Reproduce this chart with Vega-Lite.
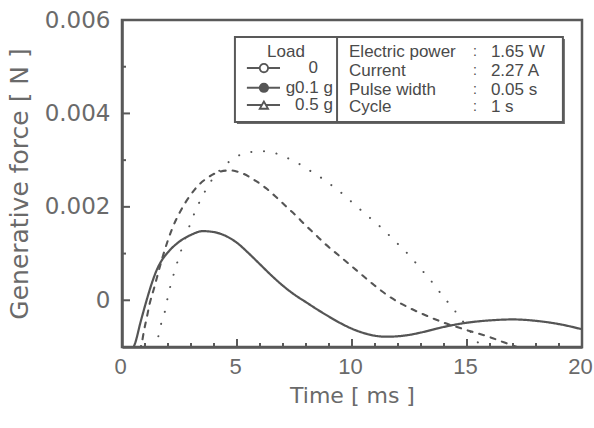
{
  "$schema": "https://vega.github.io/schema/vega-lite/v6.json",
  "width": 460,
  "height": 327,
  "autosize": {"type": "none"},
  "padding": {"left": 122, "top": 20, "right": 12, "bottom": 81},
  "background": "white",
  "config": {
    "font": "Liberation Sans",
    "view": {"stroke": "#595959", "strokeWidth": 2.5},
    "axis": {
      "domainColor": "#595959",
      "domainWidth": 2.5,
      "grid": false,
      "labelColor": "#6a6a6a",
      "titleFontWeight": "normal",
      "titleColor": "#6a6a6a"
    }
  },
  "datasets": {
    "curves": [
      {"series": "a", "t": 0.45, "v": -0.00106},
      {"series": "a", "t": 0.57, "v": -0.00092},
      {"series": "a", "t": 0.8, "v": -0.00048},
      {"series": "a", "t": 1.07, "v": 0.0},
      {"series": "a", "t": 1.3, "v": 0.00037},
      {"series": "a", "t": 1.52, "v": 0.00066},
      {"series": "a", "t": 1.75, "v": 0.00087},
      {"series": "a", "t": 2.0, "v": 0.00103},
      {"series": "a", "t": 2.4, "v": 0.00122},
      {"series": "a", "t": 3.0, "v": 0.0014},
      {"series": "a", "t": 3.5, "v": 0.00148},
      {"series": "a", "t": 4.0, "v": 0.00146},
      {"series": "a", "t": 4.5, "v": 0.00138},
      {"series": "a", "t": 5.0, "v": 0.00123},
      {"series": "a", "t": 5.5, "v": 0.00101},
      {"series": "a", "t": 6.0, "v": 0.00077},
      {"series": "a", "t": 6.5, "v": 0.00053},
      {"series": "a", "t": 7.0, "v": 0.00031},
      {"series": "a", "t": 7.5, "v": 0.00012},
      {"series": "a", "t": 8.0, "v": -0.00004},
      {"series": "a", "t": 8.5, "v": -0.0002},
      {"series": "a", "t": 9.0, "v": -0.00035},
      {"series": "a", "t": 9.5, "v": -0.00049},
      {"series": "a", "t": 10.0, "v": -0.00061},
      {"series": "a", "t": 10.5, "v": -0.0007},
      {"series": "a", "t": 11.0, "v": -0.00076},
      {"series": "a", "t": 11.5, "v": -0.00078},
      {"series": "a", "t": 12.0, "v": -0.00077},
      {"series": "a", "t": 12.5, "v": -0.00074},
      {"series": "a", "t": 13.0, "v": -0.00069},
      {"series": "a", "t": 13.5, "v": -0.00063},
      {"series": "a", "t": 14.0, "v": -0.00057},
      {"series": "a", "t": 15.0, "v": -0.00048},
      {"series": "a", "t": 16.0, "v": -0.00043},
      {"series": "a", "t": 17.0, "v": -0.00041},
      {"series": "a", "t": 18.0, "v": -0.00044},
      {"series": "a", "t": 19.0, "v": -0.00051},
      {"series": "a", "t": 20.0, "v": -0.00062},
      {"series": "b", "t": 0.76, "v": -0.00108},
      {"series": "b", "t": 0.87, "v": -0.00089},
      {"series": "b", "t": 0.96, "v": -0.00064},
      {"series": "b", "t": 1.09, "v": -0.00034},
      {"series": "b", "t": 1.2, "v": -0.00008},
      {"series": "b", "t": 1.4, "v": 0.00027},
      {"series": "b", "t": 1.75, "v": 0.0009},
      {"series": "b", "t": 2.17, "v": 0.00152},
      {"series": "b", "t": 2.61, "v": 0.00197},
      {"series": "b", "t": 2.96, "v": 0.00224},
      {"series": "b", "t": 3.3, "v": 0.00245},
      {"series": "b", "t": 3.74, "v": 0.00263},
      {"series": "b", "t": 4.17, "v": 0.00274},
      {"series": "b", "t": 4.7, "v": 0.00278},
      {"series": "b", "t": 5.22, "v": 0.00272},
      {"series": "b", "t": 5.74, "v": 0.00258},
      {"series": "b", "t": 6.26, "v": 0.0024},
      {"series": "b", "t": 6.7, "v": 0.00221},
      {"series": "b", "t": 7.13, "v": 0.00201},
      {"series": "b", "t": 7.57, "v": 0.00181},
      {"series": "b", "t": 7.95, "v": 0.00162},
      {"series": "b", "t": 8.4, "v": 0.00141},
      {"series": "b", "t": 8.78, "v": 0.00123},
      {"series": "b", "t": 9.5, "v": 0.00093},
      {"series": "b", "t": 10.2, "v": 0.00064},
      {"series": "b", "t": 10.9, "v": 0.00035},
      {"series": "b", "t": 11.65, "v": 0.00007},
      {"series": "b", "t": 12.4, "v": -0.00014},
      {"series": "b", "t": 13.1, "v": -0.0003},
      {"series": "b", "t": 14.0, "v": -0.00048},
      {"series": "b", "t": 15.0, "v": -0.00064},
      {"series": "b", "t": 16.0, "v": -0.00079},
      {"series": "b", "t": 16.6, "v": -0.0009},
      {"series": "b", "t": 17.3, "v": -0.00102},
      {"series": "c", "t": 1.48, "v": -0.00104},
      {"series": "c", "t": 1.61, "v": -0.0007},
      {"series": "c", "t": 1.74, "v": -0.00043},
      {"series": "c", "t": 1.91, "v": -0.00015},
      {"series": "c", "t": 2.0, "v": 0.0001},
      {"series": "c", "t": 2.13, "v": 0.00035},
      {"series": "c", "t": 2.6, "v": 0.00111},
      {"series": "c", "t": 3.04, "v": 0.00173},
      {"series": "c", "t": 3.26, "v": 0.00199},
      {"series": "c", "t": 3.52, "v": 0.00225},
      {"series": "c", "t": 3.78, "v": 0.00248},
      {"series": "c", "t": 4.52, "v": 0.00291},
      {"series": "c", "t": 5.0, "v": 0.00308},
      {"series": "c", "t": 5.52, "v": 0.00317},
      {"series": "c", "t": 6.13, "v": 0.00319},
      {"series": "c", "t": 6.65, "v": 0.00315},
      {"series": "c", "t": 7.22, "v": 0.00304},
      {"series": "c", "t": 7.74, "v": 0.00291},
      {"series": "c", "t": 8.22, "v": 0.00276},
      {"series": "c", "t": 8.7, "v": 0.00261},
      {"series": "c", "t": 9.17, "v": 0.00244},
      {"series": "c", "t": 9.61, "v": 0.00227},
      {"series": "c", "t": 10.04, "v": 0.00208},
      {"series": "c", "t": 10.48, "v": 0.00189},
      {"series": "c", "t": 10.91, "v": 0.00171},
      {"series": "c", "t": 11.35, "v": 0.00152},
      {"series": "c", "t": 11.74, "v": 0.00133},
      {"series": "c", "t": 12.17, "v": 0.00112},
      {"series": "c", "t": 12.57, "v": 0.00092},
      {"series": "c", "t": 12.9, "v": 0.00072},
      {"series": "c", "t": 13.3, "v": 0.0005},
      {"series": "c", "t": 13.65, "v": 0.00028},
      {"series": "c", "t": 14.0, "v": 0.00006},
      {"series": "c", "t": 14.35, "v": -0.00015},
      {"series": "c", "t": 14.7, "v": -0.00037},
      {"series": "c", "t": 15.04, "v": -0.0006},
      {"series": "c", "t": 15.35, "v": -0.00081},
      {"series": "c", "t": 15.65, "v": -0.00104}
    ],
    "xMajor": [{"t": 5}, {"t": 10}, {"t": 15}],
    "xMinor": [{"t": 1}, {"t": 2}, {"t": 3}, {"t": 4}, {"t": 6}, {"t": 7}, {"t": 8}, {"t": 9}, {"t": 11}, {"t": 12}, {"t": 13}, {"t": 14}, {"t": 16}, {"t": 17}, {"t": 18}, {"t": 19}],
    "yMajor": [{"v": 0}, {"v": 0.002}, {"v": 0.004}],
    "yMinor": [{"v": 0.001}, {"v": 0.003}, {"v": 0.005}],
    "box": [{"t": 4.91, "t2": 19.17, "v": 0.005636, "v2": 0.003814}],
    "divider": [{"t": 9.35, "v": 0.005636, "v2": 0.003814}],
    "params": [
      {"t": 9.87, "v": 0.005314, "label": "Electric power", "val": "1.65 W", "tc": 15.35, "tv": 16.04},
      {"t": 9.87, "v": 0.004907, "label": "Current", "val": "2.27 A", "tc": 15.35, "tv": 16.04},
      {"t": 9.87, "v": 0.004511, "label": "Pulse width", "val": "0.05 s", "tc": 15.35, "tv": 16.04},
      {"t": 9.87, "v": 0.004135, "label": "Cycle", "val": "1 s", "tc": 15.35, "tv": 16.04}
    ],
    "loadTitle": [{"t": 7.13, "v": 0.005314, "label": "Load"}],
    "loadRows": [
      {"key": "0", "t": 5.43, "t2": 6.87, "tm": 6.17, "v": 0.004971, "label": "0", "tl": 8.52},
      {"key": "0.1 g", "t": 5.43, "t2": 6.87, "tm": 6.17, "v": 0.004549, "label": "g0.1 g", "tl": 9.17},
      {"key": "0.5 g", "t": 5.43, "t2": 6.87, "tm": 6.17, "v": 0.004178, "label": "0.5 g", "tl": 9.17}
    ]
  },
  "layer": [
    {
      "data": {"name": "curves"},
      "mark": {"type": "line", "clip": true, "color": "#555555", "strokeCap": "round", "interpolate": "monotone"},
      "encoding": {
        "x": {
          "field": "t", "type": "quantitative",
          "scale": {"domain": [0, 20], "nice": false, "zero": false},
          "axis": {
            "title": "Time   [ ms ]",
            "titleFont": "DejaVu Sans",
            "titleFontSize": 22,
            "values": [0, 5, 10, 15, 20],
            "labelFont": "Liberation Sans",
            "labelFontSize": 22,
            "labelFlush": false,
            "labelOverlap": false,
            "labelOffset": -2,
            "ticks": false,
            "labelPadding": 9,
            "titlePadding": 8
          }
        },
        "y": {
          "field": "v", "type": "quantitative",
          "scale": {"domain": [-0.001, 0.006], "nice": false, "zero": false},
          "axis": {
            "title": "Generative force [ N ]",
            "titleFont": "DejaVu Sans",
            "titleFontSize": 25,
            "values": [0, 0.002, 0.004, 0.006],
            "format": ".3~f",
            "labelFont": "DejaVu Sans",
            "labelFontSize": 23,
            "labelFlush": false,
            "labelOverlap": false,
            "ticks": false,
            "labelPadding": 12,
            "titlePadding": 12
          }
        },
        "detail": {"field": "series"},
        "strokeDash": {
          "field": "series", "type": "nominal",
          "scale": {"domain": ["a", "b", "c"], "range": [[1, 0], [5, 7], [0.1, 12.6]]},
          "legend": null
        },
        "strokeWidth": {
          "field": "series", "type": "nominal",
          "scale": {"domain": ["a", "b", "c"], "range": [2.2, 2, 3.3]},
          "legend": null
        }
      }
    },
    {
      "data": {"name": "xMajor"},
      "mark": {"type": "tick", "orient": "vertical", "size": 16, "thickness": 2, "color": "#595959", "opacity": 1, "clip": true},
      "encoding": {
        "x": {"field": "t", "type": "quantitative"},
        "y": {"datum": -0.001, "type": "quantitative"}
      }
    },
    {
      "data": {"name": "xMinor"},
      "mark": {"type": "tick", "orient": "vertical", "size": 8, "thickness": 2, "color": "#595959", "opacity": 1, "clip": true},
      "encoding": {
        "x": {"field": "t", "type": "quantitative"},
        "y": {"datum": -0.001, "type": "quantitative"}
      }
    },
    {
      "data": {"name": "yMajor"},
      "mark": {"type": "tick", "orient": "horizontal", "size": 16, "thickness": 2, "color": "#595959", "opacity": 1, "clip": true},
      "encoding": {
        "x": {"datum": 0, "type": "quantitative"},
        "y": {"field": "v", "type": "quantitative"}
      }
    },
    {
      "data": {"name": "yMinor"},
      "mark": {"type": "tick", "orient": "horizontal", "size": 8, "thickness": 2, "color": "#595959", "opacity": 1, "clip": true},
      "encoding": {
        "x": {"datum": 0, "type": "quantitative"},
        "y": {"field": "v", "type": "quantitative"}
      }
    },
    {
      "data": {"name": "box"},
      "mark": {"type": "rect", "fill": "#6a6a6a", "xOffset": 2, "yOffset": 2, "x2Offset": 2, "y2Offset": 2},
      "encoding": {
        "x": {"field": "t", "type": "quantitative"},
        "x2": {"field": "t2"},
        "y": {"field": "v", "type": "quantitative"},
        "y2": {"field": "v2"}
      }
    },
    {
      "data": {"name": "box"},
      "mark": {"type": "rect", "fill": "white", "stroke": "#595959", "strokeWidth": 2},
      "encoding": {
        "x": {"field": "t", "type": "quantitative"},
        "x2": {"field": "t2"},
        "y": {"field": "v", "type": "quantitative"},
        "y2": {"field": "v2"}
      }
    },
    {
      "data": {"name": "divider"},
      "mark": {"type": "rule", "stroke": "#595959", "strokeWidth": 2},
      "encoding": {
        "x": {"field": "t", "type": "quantitative"},
        "y": {"field": "v", "type": "quantitative"},
        "y2": {"field": "v2"}
      }
    },
    {
      "data": {"name": "params"},
      "mark": {"type": "text", "align": "left", "baseline": "middle", "fontSize": 17, "color": "#4a4a4a"},
      "encoding": {
        "x": {"field": "t", "type": "quantitative"},
        "y": {"field": "v", "type": "quantitative"},
        "text": {"field": "label"}
      }
    },
    {
      "data": {"name": "params"},
      "mark": {"type": "text", "align": "center", "baseline": "middle", "fontSize": 14, "color": "#4a4a4a"},
      "encoding": {
        "x": {"field": "tc", "type": "quantitative"},
        "y": {"field": "v", "type": "quantitative"},
        "text": {"value": ":"}
      }
    },
    {
      "data": {"name": "params"},
      "mark": {"type": "text", "align": "left", "baseline": "middle", "fontSize": 17, "color": "#4a4a4a"},
      "encoding": {
        "x": {"field": "tv", "type": "quantitative"},
        "y": {"field": "v", "type": "quantitative"},
        "text": {"field": "val"}
      }
    },
    {
      "data": {"name": "loadTitle"},
      "mark": {"type": "text", "align": "center", "baseline": "middle", "fontSize": 17, "color": "#4a4a4a"},
      "encoding": {
        "x": {"field": "t", "type": "quantitative"},
        "y": {"field": "v", "type": "quantitative"},
        "text": {"field": "label"}
      }
    },
    {
      "data": {"name": "loadRows"},
      "mark": {"type": "rule", "stroke": "#595959", "strokeWidth": 2},
      "encoding": {
        "x": {"field": "t", "type": "quantitative"},
        "x2": {"field": "t2"},
        "y": {"field": "v", "type": "quantitative"}
      }
    },
    {
      "data": {"name": "loadRows"},
      "mark": {"type": "point", "size": 70, "strokeWidth": 1.8, "opacity": 1},
      "encoding": {
        "x": {"field": "tm", "type": "quantitative"},
        "y": {"field": "v", "type": "quantitative"},
        "shape": {"field": "key", "type": "nominal", "scale": {"domain": ["0", "0.1 g", "0.5 g"], "range": ["circle", "circle", "triangle-up"]}, "legend": null},
        "fill": {"field": "key", "type": "nominal", "scale": {"domain": ["0", "0.1 g", "0.5 g"], "range": ["white", "#555555", "white"]}, "legend": null},
        "stroke": {"value": "#555555"}
      }
    },
    {
      "data": {"name": "loadRows"},
      "mark": {"type": "text", "align": "right", "baseline": "middle", "fontSize": 17, "color": "#4a4a4a"},
      "encoding": {
        "x": {"field": "tl", "type": "quantitative"},
        "y": {"field": "v", "type": "quantitative"},
        "text": {"field": "label"}
      }
    }
  ]
}
